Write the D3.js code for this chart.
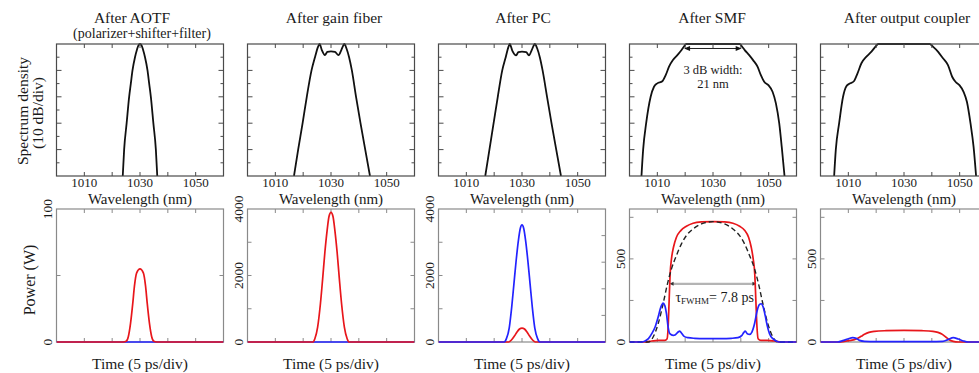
<!DOCTYPE html>
<html><head><meta charset="utf-8">
<script src="https://cdn.jsdelivr.net/npm/d3@7/dist/d3.min.js"></script>
<style>
body{margin:0;background:#fff;}
svg text{font-family:"Liberation Serif","Times New Roman",serif;fill:#1a1a1a;}
</style></head><body>
<svg id="chart" width="979" height="373"></svg>
<script>
// ---------- data ----------
const titles = ["After AOTF","After gain fiber","After PC","After SMF","After output coupler"];
const subtitle = "(polarizer+shifter+filter)";
const wavelengthTicks = [1010,1030,1050];
const wavelengthMinorTicks = [1020,1040];
const dbMajorTicks = [-10,-20,-30,-40];
const dbMinorTicks = [-5,-15,-25,-35,-45];
const timeTicks = [-10,-5,0,5,10];
const powerMax = [100,4000,4000,800,800];
const powerLabels = [[0,100],[0,2000,4000],[0,2000,4000],[0,500],[0,500]];
const powerTicksLeft = [[50],[1000,2000,3000],[1000,2000,3000],[250,500,750],[250,500,750]];
const powerTicksRight = [[50],[1000,2000,3000],[800,1600,2400,3200],[250,500,750],[250,500,750]];

// spectra [wavelength nm, dB]
const specAOTF = [[1023.8,-50],[1024.3,-40],[1025.2,-30],[1026.1,-20],[1026.7,-15],[1027.3,-10],[1028.2,-5],[1028.9,-2.2],[1029.4,-0.6],[1030,0],[1030.6,-0.6],[1031.1,-2.2],[1031.8,-5],[1032.7,-10],[1033.3,-15],[1033.9,-20],[1034.8,-30],[1035.7,-40],[1036.2,-50]];
const specGain = [[1016.7,-50],[1018.2,-40],[1019.8,-30],[1021.3,-20],[1023.0,-10],[1024.3,-4.8],[1025.3,-1.2],[1025.9,0],[1026.7,-2.3],[1027.8,-4.2],[1028.7,-3.0],[1030.0,-2.8],[1031.4,-3.0],[1032.7,-4.2],[1033.7,-2.3],[1034.5,-0.4],[1034.8,0],[1035.6,-1.8],[1036.5,-5],[1037.5,-10],[1039.0,-20],[1040.6,-30],[1042.3,-40],[1044.0,-50]];
const specPC = [[1016.8,-50],[1018.3,-40],[1019.8,-30],[1021.3,-20],[1022.9,-10],[1024.2,-4.8],[1025.1,-1.2],[1025.6,0],[1026.5,-2.5],[1027.9,-4.3],[1028.7,-3.1],[1030,-2.9],[1031.5,-3.1],[1032.5,-4.3],[1033.5,-2.3],[1034.3,-0.4],[1034.6,0],[1035.5,-1.8],[1036.4,-5],[1037.4,-10],[1039.0,-20],[1040.6,-30],[1042.3,-40],[1044.0,-50]];
const specSMF = [[1004.3,-50],[1004.9,-40],[1006.0,-29.9],[1007.6,-20],[1008.8,-16.2],[1010.0,-14.9],[1011.8,-14.1],[1013.0,-11.8],[1014.2,-8.6],[1015.6,-6.1],[1017.2,-4.2],[1018.7,-2.3],[1019.7,-0.8],[1020.4,0],[1030,0],[1039.6,0],[1040.3,-0.8],[1041.4,-2.3],[1043.0,-4.2],[1044.4,-6.1],[1046.0,-8.6],[1047.2,-11.8],[1048.4,-14.3],[1049.9,-15.6],[1051.4,-18.1],[1052.6,-22.5],[1053.8,-30.1],[1054.7,-39],[1055.7,-50]];
const specOC = [[1004.9,-50],[1005.5,-40],[1006.7,-30],[1008.1,-20],[1009.3,-16],[1010.5,-15],[1012.0,-14.1],[1013.3,-11.1],[1014.7,-7.3],[1016.5,-4.8],[1018.3,-2.9],[1019.9,-0.8],[1020.7,0],[1030,0],[1039.2,0],[1040.4,-1],[1042.2,-2.9],[1044.0,-5.4],[1045.8,-8],[1047.3,-12.4],[1048.5,-14.3],[1049.9,-15.6],[1051.4,-18.1],[1052.6,-21.9],[1053.9,-30.1],[1055.0,-39],[1055.9,-50]];

// temporal [time ps, power W]
const redAOTF = [[-15,0],[-3,0],[-2.5,0.5],[-2.1,4],[-1.7,14],[-1.3,29],[-1.0,42],[-0.6,52],[0,55],[0.6,52],[1.0,42],[1.3,29],[1.7,14],[2.1,4],[2.5,0.5],[3,0],[15,0]];
const blueAOTF = [[-15,0],[0,0],[15,0]];
const redGain = [[-15,0],[-3.3,0],[-2.9,100],[-2.4,450],[-1.9,1150],[-1.5,1900],[-1.1,2700],[-0.7,3350],[-0.35,3780],[0,3900],[0.35,3780],[0.7,3350],[1.1,2700],[1.5,1900],[1.9,1150],[2.4,450],[2.9,100],[3.3,0],[15,0]];
const blueGain = [[-15,0],[0,0],[15,0]];
const bluePC = [[-15,0],[-3.2,0],[-2.8,100],[-2.3,420],[-1.85,1050],[-1.45,1750],[-1.05,2450],[-0.65,3050],[-0.3,3420],[0,3520],[0.3,3420],[0.65,3050],[1.05,2450],[1.45,1750],[1.85,1050],[2.3,420],[2.8,100],[3.2,0],[15,0]];
const redPC = [[-15,0],[-2.4,0],[-1.9,60],[-1.4,170],[-0.9,300],[-0.45,390],[0,420],[0.45,390],[0.9,300],[1.4,170],[1.9,60],[2.4,0],[15,0]];
const redSMF = [[-15,0],[-12.2,0],[-11,6],[-9.85,10],[-8.66,10],[-8.24,20],[-8.06,90],[-7.88,250],[-7.7,410],[-7.46,500],[-7.1,570],[-6.57,630],[-5.79,670],[-4.78,696],[-3.58,714],[-2.09,722],[0,724],[2.09,722],[3.58,714],[4.78,696],[5.67,672],[6.39,630],[6.87,570],[7.22,500],[7.5,410],[7.7,250],[7.9,90],[8.1,20],[8.6,10],[9.8,10],[11,6],[12.2,0],[15,0]];
const dashedSMF = [[-15,0],[-11.6,0],[-10.75,30],[-9.85,110],[-8.96,230],[-8.18,350],[-7.46,440],[-6.57,520],[-5.67,590],[-4.78,640],[-3.58,680],[-2.09,710],[0,724],[2.09,710],[3.58,680],[4.78,640],[5.67,590],[6.57,520],[7.46,440],[8.18,350],[8.96,230],[9.85,110],[10.75,30],[11.6,0],[15,0]];
const blueSMF = [[-15,0],[-12.8,0],[-12.2,6],[-11.6,20],[-11,50],[-10.4,90],[-9.85,150],[-9.37,210],[-8.96,234],[-8.66,220],[-8.36,170],[-8.06,90],[-7.76,50],[-7.16,40],[-6.75,44],[-6.27,60],[-5.97,66],[-5.67,54],[-5.19,34],[-4.48,26],[-3.28,22],[-1.49,20],[0,20],[1.49,20],[3.28,22],[4.48,26],[5.19,40],[5.55,58],[5.79,66],[6.15,50],[6.57,46],[6.99,60],[7.46,110],[7.94,190],[8.36,226],[8.66,230],[9.01,210],[9.37,160],[9.73,100],[10.15,50],[10.75,20],[11.34,6],[11.94,0],[15,0]];
const redOC = [[-15,0],[-11.6,0],[-10.7,4],[-9.5,10],[-8.9,14],[-8.3,22],[-7.7,34],[-7.1,46],[-6.3,58],[-5.3,64],[-3.2,68],[0,70],[3.2,68],[5.2,64],[6.1,58],[6.9,46],[7.5,30],[8.1,14],[8.85,4],[9.75,0],[15,0]];
const blueOC = [[-15,0],[-11.9,0],[-11,8],[-10.1,18],[-9.2,26],[-8.6,22],[-8,10],[-7.1,4],[-5,2],[0,2],[4.6,2],[7,4],[7.9,14],[8.85,26],[9.75,18],[10.7,6],[11.6,0],[15,0]];

const spectra = [specAOTF, specGain, specPC, specSMF, specOC];
// series per panel, in drawing order
const temporal = [
  [{d:blueAOTF,c:"blue"},{d:redAOTF,c:"red"}],
  [{d:blueGain,c:"blue"},{d:redGain,c:"red"}],
  [{d:redPC,c:"red"},{d:bluePC,c:"blue"}],
  [{d:redSMF,c:"red"},{d:dashedSMF,c:"dash"},{d:blueSMF,c:"blue"}],
  [{d:redOC,c:"red"},{d:blueOC,c:"blue"}]
];
const fwhmLevel = 350, fwhmHalf = 7.8;
const fwhmText = ["τ","FWHM","= 7.8 ps"];
const bw3dB = [1019.6, 1040.3], bw3dBLevel = -1.7;
const bwText = ["3 dB width:", "21 nm"];

// ---------- layout ----------
const svg = d3.select("#chart");
const W = 167, pitch = 191, left0 = 56.5;
const topY0 = 44, topY1 = 176, botY0 = 209, botY1 = 342;
const titleX = [132, 334, 523, 712, 907];
const frameTop = "#4a4a4a", frameBot = "#8a8a8a";
const colors = {red:"#e8161b", blue:"#2323ff", dash:"#222"};

const defs = svg.append("defs");

function ticksV(g, x, ys, len, dir, col){
  ys.forEach(y=>g.append("line").attr("x1",x).attr("x2",x+dir*len).attr("y1",y).attr("y2",y).attr("stroke",col).attr("stroke-width",1));
}
function ticksH(g, y, xs, len, dir, col){
  xs.forEach(x=>g.append("line").attr("x1",x).attr("x2",x).attr("y1",y).attr("y2",y+dir*len).attr("stroke",col).attr("stroke-width",1));
}

for(let i=0;i<5;i++){
  const L = left0 + i*pitch, R = L + W;
  // ----- spectrum panel -----
  const x = d3.scaleLinear().domain([1000,1060]).range([L,R]);
  const y = d3.scaleLinear().domain([-50,0]).range([topY1,topY0]);
  const g = svg.append("g");
  defs.append("clipPath").attr("id","ct"+i).append("rect").attr("x",L).attr("y",topY0-1).attr("width",W).attr("height",topY1-topY0+1);
  g.append("path").datum(spectra[i]).attr("clip-path","url(#ct"+i+")")
    .attr("d", d3.line().x(d=>x(d[0])).y(d=>y(d[1])).curve(d3.curveMonotoneX))
    .attr("fill","none").attr("stroke","#111").attr("stroke-width",1.8);
  g.append("rect").attr("x",L).attr("y",topY0).attr("width",W).attr("height",topY1-topY0)
    .attr("fill","none").attr("stroke",frameTop).attr("stroke-width",1.2);
  const wt = wavelengthTicks.concat(wavelengthMinorTicks).map(v=>x(v));
  ticksH(g, topY0, wt, 4, 1, frameTop);
  ticksH(g, topY1, wt, 4, -1, frameTop);
  ticksV(g, L, dbMajorTicks.map(v=>y(v)), 5, 1, frameTop);
  ticksV(g, L, dbMinorTicks.map(v=>y(v)), 3, 1, frameTop);
  ticksV(g, R, dbMajorTicks.map(v=>y(v)), 5, -1, frameTop);
  ticksV(g, R, dbMinorTicks.map(v=>y(v)), 3, -1, frameTop);
  wavelengthTicks.forEach(v=>g.append("text").attr("x",x(v)).attr("y",187).attr("text-anchor","middle").attr("font-size",13).text(v));
  g.append("text").attr("x",(L+R)/2).attr("y",203.5).attr("text-anchor","middle").attr("font-size",15).text("Wavelength (nm)");
  g.append("text").attr("x",titleX[i]).attr("y",23).attr("text-anchor","middle").attr("font-size",15.5).text(titles[i]);

  if(i===3){
    // 3 dB width arrow
    const ay = y(bw3dBLevel);
    const x1 = x(bw3dB[0]), x2 = x(bw3dB[1]);
    g.append("line").attr("x1",x1+3).attr("x2",x2-3).attr("y1",ay).attr("y2",ay).attr("stroke","#222").attr("stroke-width",1);
    g.append("path").attr("d",`M${x1},${ay} l6,-2.5 l0,5 z`).attr("fill","#111");
    g.append("path").attr("d",`M${x2},${ay} l-6,-2.5 l0,5 z`).attr("fill","#111");
    g.append("text").attr("x",x(1030)).attr("y",73.5).attr("text-anchor","middle").attr("font-size",12.5).text(bwText[0]);
    g.append("text").attr("x",x(1030)).attr("y",87.5).attr("text-anchor","middle").attr("font-size",12.5).text(bwText[1]);
  }

  // ----- temporal panel -----
  const tx = d3.scaleLinear().domain([-15,15]).range([L,R]);
  const py = d3.scaleLinear().domain([0,powerMax[i]]).range([botY1,botY0]);
  const h = svg.append("g");
  defs.append("clipPath").attr("id","cb"+i).append("rect").attr("x",L).attr("y",botY0).attr("width",W).attr("height",botY1-botY0+2);
  h.append("rect").attr("x",L).attr("y",botY0).attr("width",W).attr("height",botY1-botY0)
    .attr("fill","none").attr("stroke",frameBot).attr("stroke-width",1.2);
  ticksH(h, botY0, timeTicks.map(v=>tx(v)), 4, 1, frameBot);
  ticksH(h, botY1, timeTicks.map(v=>tx(v)), 4, -1, frameBot);
  ticksV(h, L, powerTicksLeft[i].map(v=>py(v)), 4, 1, frameBot);
  ticksV(h, R, powerTicksRight[i].map(v=>py(v)), 4, -1, frameBot);
  if(i===3){
    const ay = py(fwhmLevel);
    h.append("line").attr("x1",tx(-fwhmHalf)+2).attr("x2",tx(fwhmHalf)-2).attr("y1",ay).attr("y2",ay).attr("stroke","#b4b4b4").attr("stroke-width",2.2);
    h.append("path").attr("d",`M${tx(-fwhmHalf)},${ay} l4,-2 l0,4 z`).attr("fill","#333");
    h.append("path").attr("d",`M${tx(fwhmHalf)},${ay} l-4,-2 l0,4 z`).attr("fill","#333");
  }
  temporal[i].forEach(s=>{
    h.append("path").datum(s.d).attr("clip-path","url(#cb"+i+")")
      .attr("d", d3.line().x(d=>tx(d[0])).y(d=>py(d[1])).curve(d3.curveMonotoneX))
      .attr("fill","none").attr("stroke",colors[s.c]).attr("stroke-width", s.c==="dash"?1.4:1.7)
      .attr("stroke-dasharray", s.c==="dash"?"5,3":null);
  });
  if(i===3){
    const t = h.append("text").attr("x",tx(0.3)).attr("y",302).attr("text-anchor","middle").attr("font-size",14);
    t.append("tspan").text(fwhmText[0]);
    t.append("tspan").attr("font-size",9).attr("dy",2).text(fwhmText[1]);
    t.append("tspan").attr("dy",-2).text(fwhmText[2]);
  }
  powerLabels[i].forEach(v=>{
    h.append("text").attr("transform",`translate(${L-4.5},${py(v)}) rotate(-90)`)
      .attr("text-anchor","middle").attr("font-size",13.5).text(v);
  });
  h.append("text").attr("x",(L+R)/2).attr("y",369).attr("text-anchor","middle").attr("font-size",15.5).text("Time (5 ps/div)");
}

svg.append("text").attr("x",142).attr("y",37.5).attr("text-anchor","middle").attr("font-size",14).text(subtitle);
svg.append("text").attr("transform","translate(28,111) rotate(-90)").attr("text-anchor","middle").attr("font-size",15.5).text("Spectrum density");
svg.append("text").attr("transform","translate(43,113) rotate(-90)").attr("text-anchor","middle").attr("font-size",15.5).text("(10 dB/div)");
svg.append("text").attr("transform","translate(35,280) rotate(-90)").attr("text-anchor","middle").attr("font-size",16).text("Power (W)");
</script>
</body></html>
